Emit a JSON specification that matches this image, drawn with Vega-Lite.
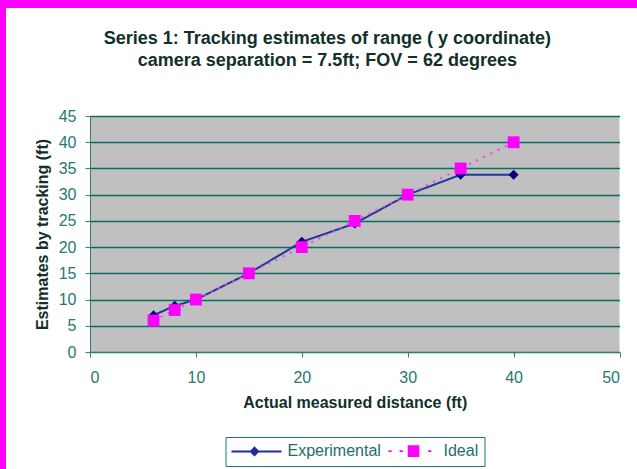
{
  "$schema": "https://vega.github.io/schema/vega-lite/v6.json",
  "background": "white",
  "padding": 0,
  "config": {
    "font": "Liberation Sans",
    "view": {"stroke": null},
    "concat": {"spacing": 0}
  },
  "spacing": 0,
  "hconcat": [
    {
      "width": 6,
      "height": 469,
      "view": {"fill": "#ff00ff", "stroke": null},
      "data": {"values": []},
      "mark": {"type": "point", "opacity": 0}
    },
    {
      "spacing": 0,
      "vconcat": [
        {
          "width": 631,
          "height": 8,
          "view": {"fill": "#ff00ff", "stroke": null},
          "data": {"values": []},
          "mark": {"type": "point", "opacity": 0}
        },
        {
          "spacing": 0,
          "hconcat": [
            {
              "width": 27.5,
              "height": 1,
              "view": {"fill": null, "stroke": null},
              "data": {"values": []},
              "mark": {"type": "point", "opacity": 0}
            },
            {
              "width": 529.5,
              "height": 236,
              "view": {"fill": "#c0c0c0", "stroke": null},
              "title": {
                "text": ["", "Series 1: Tracking estimates of range ( y coordinate)", "camera separation = 7.5ft; FOV = 62 degrees"],
                "fontSize": 18,
                "fontWeight": "bold",
                "color": "#12302a",
                "lineHeight": 22,
                "offset": 38,
                "anchor": "middle",
                "frame": "bounds"
              },
              "data": {
                "values": [
                  {"series": "Experimental", "actual": 6, "estimate": 7},
                  {"series": "Experimental", "actual": 8, "estimate": 8.8},
                  {"series": "Experimental", "actual": 10, "estimate": 10},
                  {"series": "Experimental", "actual": 15, "estimate": 15},
                  {"series": "Experimental", "actual": 20, "estimate": 21},
                  {"series": "Experimental", "actual": 25, "estimate": 24.5},
                  {"series": "Experimental", "actual": 30, "estimate": 30},
                  {"series": "Experimental", "actual": 35, "estimate": 33.8},
                  {"series": "Experimental", "actual": 40, "estimate": 33.8},
                  {"series": "Ideal", "actual": 6, "estimate": 6},
                  {"series": "Ideal", "actual": 8, "estimate": 8},
                  {"series": "Ideal", "actual": 10, "estimate": 10},
                  {"series": "Ideal", "actual": 15, "estimate": 15},
                  {"series": "Ideal", "actual": 20, "estimate": 20},
                  {"series": "Ideal", "actual": 25, "estimate": 25},
                  {"series": "Ideal", "actual": 30, "estimate": 30},
                  {"series": "Ideal", "actual": 35, "estimate": 35},
                  {"series": "Ideal", "actual": 40, "estimate": 40}
                ]
              },
              "encoding": {
                "x": {
                  "field": "actual",
                  "type": "quantitative",
                  "scale": {"domain": [0, 50], "nice": false},
                  "axis": {
                    "title": "Actual measured distance (ft)",
                    "values": [0, 10, 20, 30, 40, 50],
                    "grid": false,
                    "domainColor": "#2f7f77",
                    "tickColor": "#2f7f77",
                    "tickSize": 5,
                    "labelPadding": 12,
                    "labelFontSize": 16,
                    "labelColor": "#237a72",
                    "titleFontSize": 16,
                    "titleFontWeight": "bold",
                    "titleColor": "#12302a",
                    "titlePadding": 9
                  }
                },
                "y": {
                  "field": "estimate",
                  "type": "quantitative",
                  "scale": {"domain": [0, 45], "nice": false},
                  "axis": {
                    "title": "Estimates by tracking (ft)",
                    "values": [0, 5, 10, 15, 20, 25, 30, 35, 40, 45],
                    "grid": true,
                    "gridColor": "#0b6b66",
                    "gridWidth": 1.6,
                    "domainColor": "#2f7f77",
                    "tickColor": "#2f7f77",
                    "tickSize": 5,
                    "labelPadding": 9,
                    "labelFontSize": 16,
                    "labelColor": "#237a72",
                    "titleFontSize": 16,
                    "titleFontWeight": "bold",
                    "titleColor": "#12302a",
                    "titlePadding": 8
                  }
                }
              },
              "layer": [
                {
                  "mark": {"type": "line", "strokeWidth": 2},
                  "encoding": {
                    "color": {
                      "field": "series",
                      "type": "nominal",
                      "scale": {"domain": ["Experimental", "Ideal"], "range": ["#1c3a9a", "#ff33ff"]},
                      "legend": null
                    },
                    "strokeDash": {
                      "field": "series",
                      "type": "nominal",
                      "scale": {"domain": ["Experimental", "Ideal"], "range": [[1, 0], [2, 6]]},
                      "legend": null
                    }
                  }
                },
                {
                  "mark": {"type": "point", "filled": true, "opacity": 1},
                  "encoding": {
                    "color": {
                      "field": "series",
                      "type": "nominal",
                      "scale": {"domain": ["Experimental", "Ideal"], "range": ["#000080", "#ff00ff"]},
                      "legend": null
                    },
                    "shape": {
                      "field": "series",
                      "type": "nominal",
                      "scale": {"domain": ["Experimental", "Ideal"], "range": ["diamond", "square"]},
                      "legend": null
                    },
                    "size": {
                      "field": "series",
                      "type": "nominal",
                      "scale": {"domain": ["Experimental", "Ideal"], "range": [100, 140]},
                      "legend": null
                    }
                  }
                },
                {
                  "transform": [{"filter": "false"}],
                  "mark": {"type": "point", "filled": true, "opacity": 1},
                  "encoding": {
                    "color": {
                      "field": "series",
                      "type": "nominal",
                      "scale": {"domain": ["Experimental", "Ideal"], "range": ["#1e2e96", "#ff00ff"]},
                      "legend": {
                        "orient": "none",
                        "legendX": 135.5,
                        "legendY": 321,
                        "direction": "horizontal",
                        "title": null,
                        "strokeColor": "#1a7a74",
                        "padding": 6,
                        "labelFontSize": 16,
                        "labelColor": "#1e6e66",
                        "symbolSize": 64,
                        "symbolOffset": 17,
                        "labelOffset": 23,
                        "columnPadding": 4,
                        "symbolOpacity": 1
                      }
                    },
                    "shape": {
                      "field": "series",
                      "type": "nominal",
                      "scale": {
                        "domain": ["Experimental", "Ideal"],
                        "range": [
                          "M-6.25,-0.25L6.25,-0.25L6.25,0.25L-6.25,0.25ZM-0.5,-1.3L0.75,0L-0.5,1.3L-1.75,0Z",
                          "M-6,-0.22L-5.2,-0.22L-5.2,0.22L-6,0.22ZM-3.2,-0.22L-2.4,-0.22L-2.4,0.22L-3.2,0.22ZM3.9,-0.22L4.7,-0.22L4.7,0.22L3.9,0.22ZM-1.2,-1.45L1.7,-1.45L1.7,1.45L-1.2,1.45Z"
                        ]
                      },
                      "legend": {
                        "orient": "none",
                        "legendX": 135.5,
                        "legendY": 321,
                        "direction": "horizontal",
                        "title": null,
                        "strokeColor": "#1a7a74",
                        "padding": 6,
                        "labelFontSize": 16,
                        "labelColor": "#1e6e66",
                        "symbolSize": 64,
                        "symbolOffset": 17,
                        "labelOffset": 23,
                        "columnPadding": 4,
                        "symbolOpacity": 1
                      }
                    }
                  }
                }
              ],
              "resolve": {"scale": {"color": "independent", "shape": "independent"}}
            }
          ]
        }
      ]
    }
  ]
}
